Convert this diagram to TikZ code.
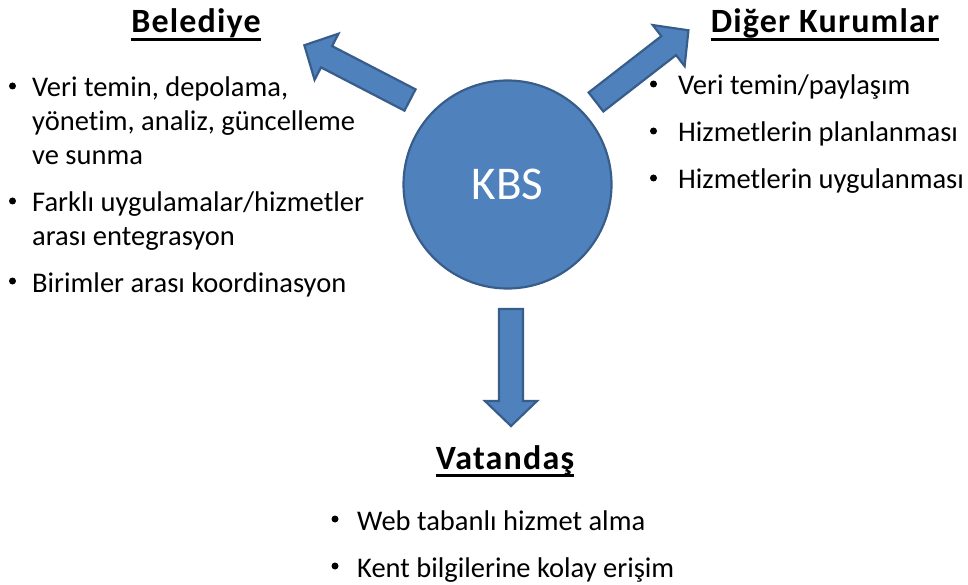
\documentclass[tikz,border=0pt]{standalone}
\usepackage{fontspec}
\setmainfont{Carlito}[Ligatures=NoCommon]
\usetikzlibrary{calc}

\definecolor{kbsfill}{HTML}{4F81BD}
\definecolor{kbsline}{HTML}{385D8A}

% block arrow: tail centre #1, direction #2 (deg), length #3
\newcommand{\kbsarrow}[3]{%
  \begin{scope}[shift={#1}, rotate=#2]
    \filldraw[blockarrow] (0,-12) -- (#3-25,-12) -- (#3-25,-26) -- (#3,0)
      -- (#3-25,26) -- (#3-25,12) -- (0,12) -- cycle;
  \end{scope}}

\begin{document}
\begin{tikzpicture}[x=1pt,y=-1pt,
  blockarrow/.style={fill=kbsfill, draw=kbsline, line width=2.2pt, line join=miter},
  hub/.style={circle, fill=kbsfill, draw=kbsline, line width=2.2pt, minimum size=208pt,
    inner sep=0pt, text=white, font=\fontsize{47}{50}\selectfont},
  heading/.style={inner sep=0pt, anchor=base,
    font=\fontsize{34}{38}\selectfont\bfseries\addfontfeature{LetterSpace=3.5}},
  item/.style={inner sep=0pt, anchor=base west, align=left,
    font=\fontsize{28.5}{34}\selectfont},
  dot/.style={fill=black},
  uline/.style={line width=2.3pt}]
\useasboundingbox (0,0) rectangle (968,585);

% centre
\node[hub] (kbs) at (507.5,184.5) {KBS};

% arrows out of the centre
\kbsarrow{(410,100)}{152.6}{119}
\kbsarrow{(596,102)}{37.8}{117}
\kbsarrow{(511,309)}{-90}{117}

% headings
\node[heading] (bel) at (196,33) {Belediye};
\node[heading] (dk) at (825,33) {Diğer Kurumlar};
\node[heading] (vat) at (505,469) {Vatandaş};
\foreach \h in {bel,dk,vat}
  \draw[uline] ($(\h.base west)+(0,6.5)$) -- ($(\h.base east)+(0,6.5)$);

% Belediye items (multi-line nodes sit on their last baseline)
\node[item] (b1) at (32,165) {Veri temin, depolama,\\yönetim, analiz, güncelleme\\ve sunma};
\node[item] (b2) at (32,246) {Farklı uygulamalar/hizmetler\\arası entegrasyon};
\node[item] (b3) at (32,292) {Birimler arası koordinasyon};
\foreach \y in {97,212,292} \fill[dot] (12.5,\y-11) circle (3.5);

% Diğer Kurumlar items
\node[item] (d1) at (678,95) {Veri temin/paylaşım};
\node[item] (d2) at (678,142) {Hizmetlerin planlanması};
\node[item] (d3) at (678,189) {Hizmetlerin uygulanması};
\foreach \y in {95,142,189} \fill[dot] (653.5,\y-11) circle (3.5);

% Vatandaş items
\node[item] (v1) at (357,530) {Web tabanlı hizmet alma};
\node[item] (v2) at (357,577) {Kent bilgilerine kolay erişim};
\foreach \y in {530,577} \fill[dot] (335,\y-11) circle (3.5);
\end{tikzpicture}
\end{document}
